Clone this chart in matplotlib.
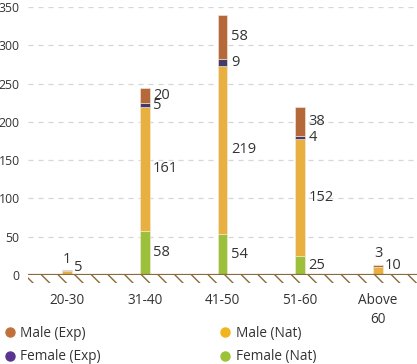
import numpy as np
import matplotlib
matplotlib.use("Agg")
import matplotlib.pyplot as plt
from matplotlib.patches import Rectangle
from matplotlib.lines import Line2D

plt.rcParams["font.family"] = ["Open Sans", "DejaVu Sans"]
plt.rcParams["hatch.linewidth"] = 1.0

categories = ["20-30", "31-40", "41-50", "51-60", "Above\n60"]
female_nat = [0, 58, 54, 25, 0]
male_nat = [5, 161, 219, 152, 10]
female_exp = [0, 5, 9, 4, 0]
male_exp = [1, 20, 58, 38, 3]

series = [
    ("Female (Nat)", female_nat, "#9dc03a", "#9cc23a"),
    ("Male (Nat)", male_nat, "#e8b040", "#f0b41c"),
    ("Female (Exp)", female_exp, "#463a68", "#5a3590"),
    ("Male (Exp)", male_exp, "#b5683a", "#c0703a"),
]

text_color = "#333333"
axis_brown = "#8a6a3c"

fig = plt.figure(figsize=(4.17, 3.64), dpi=100)
ax = fig.add_axes([28 / 417, 89 / 364, 389 / 417, 268 / 364])

x = np.arange(len(categories))
width = 0.125
bottom = np.zeros(len(categories))
totals = np.sum([s[1] for s in series], axis=0)

for name, vals, bar_col, _ in series:
    vals = np.array(vals, dtype=float)
    ax.bar(x, vals, width, bottom=bottom, color=bar_col, edgecolor="#f5eee0",
           linewidth=0.4, zorder=3)
    for i, v in enumerate(vals):
        if v <= 0:
            continue
        is_top = bottom[i] + v == totals[i]
        if totals[i] < 20 and is_top:
            ax.annotate(f"{int(v)}", (x[i], bottom[i] + v), xytext=(0, 8),
                        textcoords="offset points", ha="center", va="center",
                        fontsize=10.5, color=text_color, zorder=4)
        elif totals[i] < 20:
            ax.annotate(f"{int(v)}", (x[i] + width / 2, bottom[i] + v / 2),
                        xytext=(1.5, 4), textcoords="offset points",
                        ha="left", va="center", fontsize=10.5, color=text_color,
                        zorder=4)
        else:
            ax.annotate(f"{int(v)}", (x[i] + width / 2, bottom[i] + v / 2),
                        xytext=(2.5, 0), textcoords="offset points",
                        ha="left", va="center", fontsize=10.5, color=text_color,
                        zorder=4)
    bottom += vals

ax.set_xlim(-0.5, len(categories) - 0.5)
ax.set_ylim(0, 350)
ax.set_yticks(np.arange(0, 351, 50))
ax.set_xticks(x)
ax.set_xticklabels(categories, linespacing=1.4)
ax.tick_params(axis="both", length=0, colors=text_color)
ax.tick_params(axis="y", labelsize=8.8, pad=6)
ax.tick_params(axis="x", labelsize=9.8, pad=13)
for lbl in ax.get_yticklabels():
    lbl.set_horizontalalignment("right")

for y in np.arange(50, 351, 50):
    ax.axhline(y, color="#d6d6d6", linestyle=(0, (4, 4)), linewidth=0.9, zorder=1)

for s in ax.spines.values():
    s.set_visible(False)
ax.axhline(0, color=axis_brown, linewidth=1.6, zorder=4)
ax.add_patch(Rectangle((0, -0.03), 1, 0.03, transform=ax.transAxes, fill=False,
                       hatch="\\\\", edgecolor=axis_brown, linewidth=0,
                       clip_on=False, zorder=2))

legend_order = [3, 2, 1, 0]
handles = [Line2D([], [], marker="o", linestyle="none", markersize=6.5,
                  markerfacecolor=series[k][3], markeredgecolor=series[k][3])
           for k in legend_order]
labels = [series[k][0] for k in legend_order]
fig.legend(handles, labels, loc="upper left", bbox_to_anchor=(0.0, 0.112),
           ncol=2, frameon=False, fontsize=9.8, handletextpad=0.3,
           handlelength=1.0, labelspacing=0.62, borderaxespad=0.0, borderpad=0.2,
           columnspacing=8.6, labelcolor=text_color)

fig.savefig("out.png", dpi=100)
